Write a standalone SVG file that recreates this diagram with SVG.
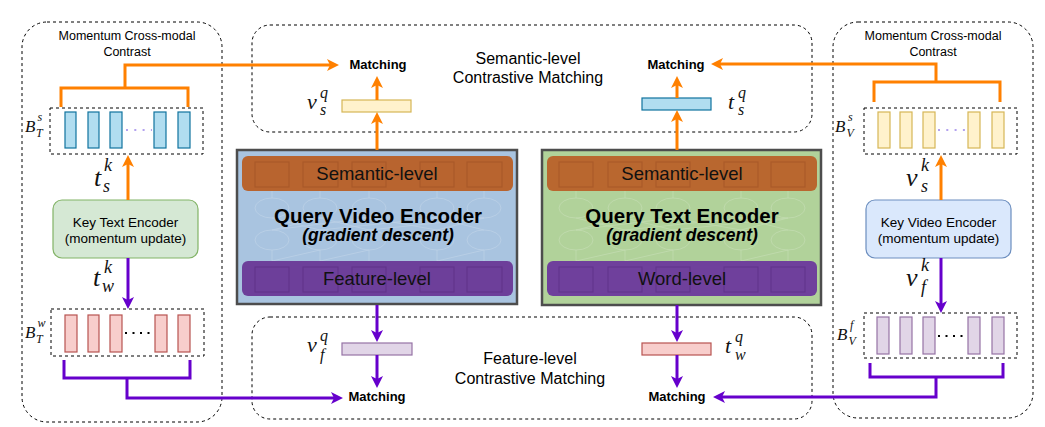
<svg xmlns="http://www.w3.org/2000/svg" width="1045" height="427" viewBox="0 0 1045 427">
<style>
.dash{fill:none;stroke:#000;stroke-width:1;stroke-dasharray:3 3}
.or{fill:none;stroke:#FF8000;stroke-width:3}
.pu{fill:none;stroke:#6600CC;stroke-width:3}
.ao{marker-end:url(#ao)}
.ap{marker-end:url(#ap)}
.sans{font-family:"Liberation Sans",Arial,sans-serif;fill:#000}
.lbl{font-size:12.5px;text-anchor:middle}
.enc{font-size:13.5px;text-anchor:middle}
.match{font-size:13px;font-weight:bold;text-anchor:middle}
.cm{font-size:16px;text-anchor:middle}
.bar{font-size:18.5px;text-anchor:middle;fill:#111}
.title{font-size:20.5px;font-weight:bold;text-anchor:middle}
.sub{font-size:17.5px;font-weight:bold;font-style:italic;text-anchor:middle}
.m{font-family:"Liberation Serif","Times New Roman",serif;font-style:italic;fill:#111}
.mb{font-size:22px}.ms{font-size:16px}
.kb{font-size:26px}.ks{font-size:18px}
.Bb{font-size:17px}.Bs{font-size:12px}
.bT{fill:#b1ddf0;stroke:#10739e;stroke-width:1.2}
.bW{fill:#f8cecc;stroke:#b85450;stroke-width:1.2}
.bVs{fill:#fff2cc;stroke:#d6b656;stroke-width:1.2}
.bVf{fill:#e1d5e7;stroke:#9673a6;stroke-width:1.2}
.sq1{fill:none;stroke:#9a4e22;stroke-width:1;opacity:0.55}
.sq2{fill:none;stroke:#55287e;stroke-width:1;opacity:0.55}
.net{fill:none;stroke:#ffffff;stroke-width:0.8;opacity:0.22}
</style>
<defs>
<marker id="ao" viewBox="0 0 10 10" refX="5" refY="5" markerWidth="4" markerHeight="4" orient="auto"><path d="M0,0 L10,5 L0,10 L2.5,5 Z" fill="#FF8000"/></marker>
<marker id="ap" viewBox="0 0 10 10" refX="5" refY="5" markerWidth="4" markerHeight="4" orient="auto"><path d="M0,0 L10,5 L0,10 L2.5,5 Z" fill="#6600CC"/></marker>
</defs>

<!-- containers -->
<g id="left-moco">
<rect class="dash" x="22" y="22" width="200" height="400" rx="25"/>
<text class="sans lbl" x="127" y="40">Momentum Cross-modal</text>
<text class="sans lbl" x="127" y="56">Contrast</text>
</g>
<g id="right-moco">
<rect class="dash" x="833" y="22" width="200" height="396" rx="25"/>
<text class="sans lbl" x="933" y="40">Momentum Cross-modal</text>
<text class="sans lbl" x="933" y="56">Contrast</text>
</g>
<g id="semantic-matching">
<rect class="dash" x="252" y="25" width="560" height="107" rx="18"/>
<text class="sans cm" x="528" y="64">Semantic-level</text>
<text class="sans cm" x="528" y="83">Contrastive Matching</text>
<text class="sans match" x="378" y="69">Matching</text>
<text class="sans match" x="676" y="69">Matching</text>
</g>
<g id="feature-matching">
<rect class="dash" x="252" y="317" width="560" height="102" rx="18"/>
<text class="sans cm" x="530" y="364">Feature-level</text>
<text class="sans cm" x="530" y="384">Contrastive Matching</text>
<text class="sans match" x="377" y="401">Matching</text>
<text class="sans match" x="677" y="401">Matching</text>
</g>

<!-- query video encoder -->
<g id="query-video-encoder">
<rect x="237" y="150" width="280" height="154" fill="#a9c4e0" stroke="#4d4d4d" stroke-width="2.5"/>
<g class="net">
<ellipse cx="272" cy="208" rx="17" ry="10"/><ellipse cx="320" cy="208" rx="17" ry="10"/><ellipse cx="369" cy="208" rx="17" ry="10"/><ellipse cx="437" cy="208" rx="17" ry="10"/><ellipse cx="484" cy="208" rx="17" ry="10"/>
<ellipse cx="272" cy="240" rx="17" ry="10"/><ellipse cx="320" cy="240" rx="17" ry="10"/><ellipse cx="369" cy="240" rx="17" ry="10"/><ellipse cx="437" cy="240" rx="17" ry="10"/><ellipse cx="484" cy="240" rx="17" ry="10"/>
<path d="M272,230 L320,218 M272,230 L369,218 M320,230 L272,218 M320,230 L437,218 M369,230 L320,218 M369,230 L484,218 M437,230 L369,218 M437,230 L484,218 M484,230 L437,218 M272,198 V191 M320,198 V191 M369,198 V191 M437,198 V191 M484,198 V191 M272,250 V261 M320,250 V261 M369,250 V261 M437,250 V261 M484,250 V261 M272,261 L320,250 M320,261 L369,250 M437,261 L484,250"/>
</g>
<rect x="242" y="156" width="271" height="35" rx="6" fill="#b8642f"/>
<rect class="sq1" x="255" y="162" width="34" height="25"/><rect class="sq1" x="303" y="162" width="35" height="25"/><rect class="sq1" x="352" y="162" width="34" height="25"/><rect class="sq1" x="420" y="162" width="34" height="25"/><rect class="sq1" x="467" y="162" width="35" height="25"/>
<text class="sans bar" x="377" y="180">Semantic-level</text>
<rect x="242" y="261" width="271" height="35" rx="6" fill="#6d3f9a"/>
<rect class="sq2" x="255" y="267" width="34" height="25"/><rect class="sq2" x="303" y="267" width="35" height="25"/><rect class="sq2" x="352" y="267" width="34" height="25"/><rect class="sq2" x="420" y="267" width="34" height="25"/><rect class="sq2" x="467" y="267" width="35" height="25"/>
<text class="sans bar" x="377" y="285">Feature-level</text>
<text class="sans title" x="378" y="223">Query Video Encoder</text>
<text class="sans sub" x="378" y="241">(gradient descent)</text>
</g>

<!-- query text encoder -->
<g id="query-text-encoder">
<rect x="542" y="150" width="279" height="155" fill="#b1d29a" stroke="#4d4d4d" stroke-width="2.5"/>
<g class="net">
<ellipse cx="576" cy="208" rx="17" ry="10"/><ellipse cx="625" cy="208" rx="17" ry="10"/><ellipse cx="673" cy="208" rx="17" ry="10"/><ellipse cx="741" cy="208" rx="17" ry="10"/><ellipse cx="788" cy="208" rx="17" ry="10"/>
<ellipse cx="576" cy="240" rx="17" ry="10"/><ellipse cx="625" cy="240" rx="17" ry="10"/><ellipse cx="673" cy="240" rx="17" ry="10"/><ellipse cx="741" cy="240" rx="17" ry="10"/><ellipse cx="788" cy="240" rx="17" ry="10"/>
<path d="M576,230 L625,218 M576,230 L673,218 M625,230 L576,218 M625,230 L741,218 M673,230 L625,218 M673,230 L788,218 M741,230 L673,218 M741,230 L788,218 M788,230 L741,218 M576,198 V191 M625,198 V191 M673,198 V191 M741,198 V191 M788,198 V191 M576,250 V261 M625,250 V261 M673,250 V261 M741,250 V261 M788,250 V261 M576,261 L625,250 M625,261 L673,250 M741,261 L788,250"/>
</g>
<rect x="547" y="156" width="270" height="35" rx="6" fill="#b9672f"/>
<rect class="sq1" x="559" y="162" width="34" height="25"/><rect class="sq1" x="608" y="162" width="34" height="25"/><rect class="sq1" x="656" y="162" width="34" height="25"/><rect class="sq1" x="724" y="162" width="34" height="25"/><rect class="sq1" x="771" y="162" width="34" height="25"/>
<text class="sans bar" x="682" y="180">Semantic-level</text>
<rect x="547" y="261" width="270" height="35" rx="6" fill="#6f409c"/>
<rect class="sq2" x="559" y="267" width="34" height="25"/><rect class="sq2" x="608" y="267" width="34" height="25"/><rect class="sq2" x="656" y="267" width="34" height="25"/><rect class="sq2" x="724" y="267" width="34" height="25"/><rect class="sq2" x="771" y="267" width="34" height="25"/>
<text class="sans bar" x="682" y="285">Word-level</text>
<text class="sans title" x="682" y="223">Query Text Encoder</text>
<text class="sans sub" x="682" y="241">(gradient descent)</text>
</g>

<!-- key encoders -->
<g id="key-text-encoder">
<rect x="53" y="200" width="145" height="58" rx="9" fill="#d5e8d4" stroke="#82b366" stroke-width="1.2"/>
<text class="sans enc" x="125.5" y="227">Key Text Encoder</text>
<text class="sans enc" x="125.5" y="243">(momentum update)</text>
</g>
<g id="key-video-encoder">
<rect x="866" y="200" width="145" height="58" rx="9" fill="#dae8fc" stroke="#6c8ebf" stroke-width="1.2"/>
<text class="sans enc" x="938.5" y="227">Key Video Encoder</text>
<text class="sans enc" x="938.5" y="243">(momentum update)</text>
</g>

<!-- queues -->
<g id="queue-BTs">
<rect class="dash" x="50" y="108" width="153" height="46"/>
<rect class="bT" x="65" y="112" width="11" height="36"/><rect class="bT" x="88" y="112" width="11" height="36"/><rect class="bT" x="110" y="112" width="12" height="36"/><rect class="bT" x="154" y="112" width="12" height="36"/><rect class="bT" x="178" y="112" width="12" height="36"/>
<line x1="126" y1="130" x2="152" y2="130" stroke="#b3a2ef" stroke-width="2" stroke-dasharray="2 6.3"/>
<text class="m Bb" x="25" y="132">B</text><text class="m Bs" x="37.5" y="121">s</text><text class="m Bs" x="36" y="137">T</text>
</g>
<g id="queue-BTw">
<rect class="dash" x="51" y="309" width="153" height="47"/>
<rect class="bW" x="65" y="315" width="12" height="37"/><rect class="bW" x="88" y="315" width="11" height="37"/><rect class="bW" x="110" y="315" width="12" height="37"/><rect class="bW" x="155" y="315" width="12" height="37"/><rect class="bW" x="178" y="315" width="12" height="37"/>
<line x1="125" y1="333" x2="154" y2="333" stroke="#000" stroke-width="2" stroke-dasharray="2 5.5"/>
<text class="m Bb" x="25" y="338">B</text><text class="m Bs" x="37.5" y="327">w</text><text class="m Bs" x="36" y="343">T</text>
</g>
<g id="queue-BVs">
<rect class="dash" x="864" y="108" width="153" height="46"/>
<rect class="bVs" x="878" y="112" width="12" height="36"/><rect class="bVs" x="900" y="112" width="12" height="36"/><rect class="bVs" x="923" y="112" width="12" height="36"/><rect class="bVs" x="968" y="112" width="12" height="36"/><rect class="bVs" x="992" y="112" width="12" height="36"/>
<line x1="938" y1="130" x2="967" y2="130" stroke="#b3a2ef" stroke-width="2" stroke-dasharray="2 6.3"/>
<text class="m Bb" x="835" y="132">B</text><text class="m Bs" x="848" y="121">s</text><text class="m Bs" x="846.5" y="137">V</text>
</g>
<g id="queue-BVf">
<rect class="dash" x="864" y="313" width="153" height="45"/>
<rect class="bVf" x="877" y="317" width="12" height="37"/><rect class="bVf" x="900" y="317" width="12" height="37"/><rect class="bVf" x="923" y="317" width="12" height="37"/><rect class="bVf" x="968" y="317" width="12" height="37"/><rect class="bVf" x="992" y="317" width="12" height="37"/>
<line x1="938" y1="336" x2="967" y2="336" stroke="#000" stroke-width="2" stroke-dasharray="2 5.5"/>
<text class="m Bb" x="837" y="340">B</text><text class="m Bs" x="850" y="329">f</text><text class="m Bs" x="848.5" y="345">V</text>
</g>

<!-- query features -->
<g id="vsq">
<rect class="bVs" x="342" y="100" width="69" height="12"/>
<text class="m mb" x="307" y="109">v</text><text class="m ms" x="320" y="98">q</text><text class="m ms" x="320" y="115">s</text>
</g>
<g id="tsq">
<rect class="bT" x="642" y="98" width="69" height="12"/>
<text class="m mb" x="728" y="109">t</text><text class="m ms" x="738" y="98">q</text><text class="m ms" x="738" y="115">s</text>
</g>
<g id="vfq">
<rect class="bVf" x="342" y="343" width="70" height="12"/>
<text class="m mb" x="307" y="352">v</text><text class="m ms" x="320" y="341">q</text><text class="m ms" x="320" y="360">f</text>
</g>
<g id="twq">
<rect class="bW" x="642" y="343" width="69" height="12"/>
<text class="m mb" x="725" y="353">t</text><text class="m ms" x="735" y="342">q</text><text class="m ms" x="735" y="360">w</text>
</g>

<!-- key feature labels -->
<g id="key-labels">
<text class="m kb" x="94" y="186">t</text><text class="m ks" x="104" y="171">k</text><text class="m ks" x="103" y="192">s</text>
<text class="m kb" x="93" y="286">t</text><text class="m ks" x="104" y="273">k</text><text class="m ks" x="102" y="292">w</text>
<text class="m kb" x="906" y="186">v</text><text class="m ks" x="921" y="171">k</text><text class="m ks" x="921" y="192">s</text>
<text class="m kb" x="906" y="286">v</text><text class="m ks" x="921" y="271">k</text><text class="m ks" x="921" y="293">f</text>
</g>

<!-- connectors -->
<g id="connectors">
<path class="or" d="M61,107 V88 H188 V107"/>
<path class="or ao" d="M125,88 V65 H333"/>
<path class="or" d="M874,102 V82 H1000 V102"/>
<path class="or ao" d="M936,82 V64 H717"/>
<path class="or ao" d="M377,150 V118"/>
<path class="or ao" d="M377,100 V82"/>
<path class="or ao" d="M677,150 V116"/>
<path class="or ao" d="M677,98 V82"/>
<path class="or ao" d="M128,200 V161"/>
<path class="or ao" d="M941,200 V161"/>
<path class="pu ap" d="M128,258 V303"/>
<path class="pu ap" d="M941,258 V307"/>
<path class="pu" d="M64,360 V378 H190 V360"/>
<path class="pu ap" d="M127,378 V398 H337"/>
<path class="pu" d="M870,363 V377 H1003 V363"/>
<path class="pu ap" d="M936,377 V397 H719"/>
<path class="pu ap" d="M377,305 V336"/>
<path class="pu ap" d="M377,355 V382"/>
<path class="pu ap" d="M677,305 V336"/>
<path class="pu ap" d="M677,355 V382"/>
</g>
</svg>
